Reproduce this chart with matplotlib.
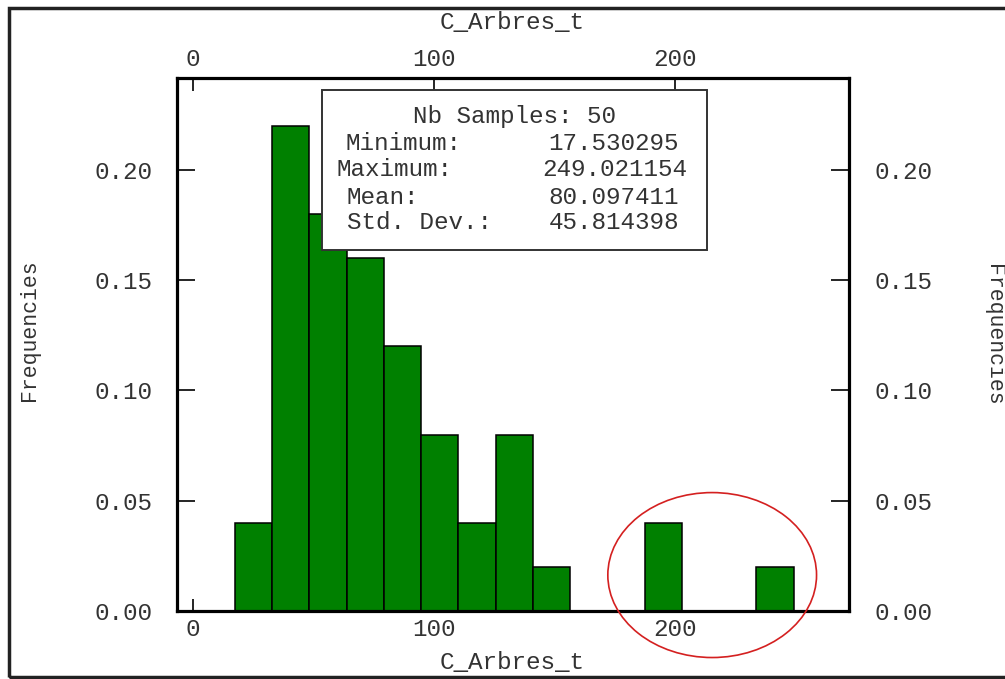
import matplotlib
matplotlib.use('Agg')
import matplotlib.pyplot as plt
import numpy as np
from matplotlib.patches import Rectangle, Ellipse

plt.rcParams['font.family'] = ['Liberation Mono', 'DejaVu Sans Mono']

# stats shown in the box
n_samples = 50
v_min = 17.530295
v_max = 249.021154
v_mean = 80.097411
v_std = 45.814398

# histogram frequencies, 15 equal bins between min and max
freqs = [0.04, 0.22, 0.18, 0.16, 0.12, 0.08, 0.04, 0.08, 0.02,
         0.0, 0.0, 0.04, 0.0, 0.0, 0.02]
xticks = [0, 100, 200]
yticks = [0.00, 0.05, 0.10, 0.15, 0.20]

W, H = 1005, 679
fig = plt.figure(figsize=(W / 100, H / 100), dpi=100)
ax = fig.add_axes([177 / W, 1 - 611 / H, 672 / W, 533 / H])

edges = np.linspace(v_min, v_max, len(freqs) + 1)
ax.bar(edges[:-1], freqs, width=np.diff(edges), align='edge',
       color='#008000', edgecolor='black', linewidth=1.1, zorder=2)

ax.set_xlim(-6.5, 272)
ax.set_ylim(0, 0.2417)

fs = 17.5
tc = '#333333'
ax.set_xticks(xticks)
ax.set_yticks(yticks)
ax.set_yticklabels(['%.2f' % t for t in yticks])
ax.tick_params(axis='x', which='both', direction='in', length=9, width=1.2,
               top=True, labeltop=True, labelsize=fs, labelcolor=tc, pad=5)
ax.tick_params(axis='y', which='both', direction='in', length=13, width=1.2,
               right=True, labelright=True, labelsize=fs, labelcolor=tc,
               pad=18)
for s in ax.spines.values():
    s.set_linewidth(2.3)

# stats box
box_l, box_r, box_t, box_b = 322, 707, 90, 250
fig.patches.append(Rectangle((box_l / W, 1 - box_b / H), (box_r - box_l) / W,
                             (box_b - box_t) / H, transform=fig.transFigure,
                             facecolor='white', edgecolor='#333333',
                             linewidth=1.4, zorder=5))
fig.text(514 / W, 1 - 116 / H, 'Nb Samples: %d' % n_samples, ha='center',
         va='center', fontsize=fs, color=tc, zorder=6)
rows = [('Minimum:', v_min, 345, 143), ('Maximum:', v_max, 337, 170),
        ('Mean:', v_mean, 346, 197), ('Std. Dev.:', v_std, 347, 223)]
for lab, val, xl, yy in rows:
    fig.text(xl / W, 1 - yy / H, lab, ha='left', va='center', fontsize=fs,
             color=tc, zorder=6)
    xr = 687 if val >= 100 else 679
    fig.text(xr / W, 1 - yy / H, '%.6f' % val, ha='right', va='center',
             fontsize=fs, color=tc, zorder=6)

# axis titles
fig.text(512 / W, 1 - 22 / H, 'C_Arbres_t', ha='center', va='center',
         fontsize=fs, color=tc)
fig.text(512 / W, 1 - 662 / H, 'C_Arbres_t', ha='center', va='center',
         fontsize=fs, color=tc)
fig.text(30 / W, 1 - 330 / H, 'Frequencies', ha='center', va='center',
         rotation=90, fontsize=fs - 2, color=tc)
fig.text(993 / W, 1 - 335 / H, 'Frequencies', ha='center', va='center',
         rotation=-90, fontsize=fs - 2, color=tc)

# red ellipse around the outlying bars
ax.add_patch(Ellipse((215.3, 0.0163), 86.5, 0.0748, fill=False,
                     edgecolor='#d42020', linewidth=1.2, clip_on=False,
                     zorder=4))

# screenshot frame
fig.patches.append(Rectangle((9 / W, 1 - 677 / H), 1.1, 669 / H,
                             transform=fig.transFigure, fill=False,
                             edgecolor='#222222', linewidth=2.5, zorder=10))

fig.savefig('out.png', dpi=100)
